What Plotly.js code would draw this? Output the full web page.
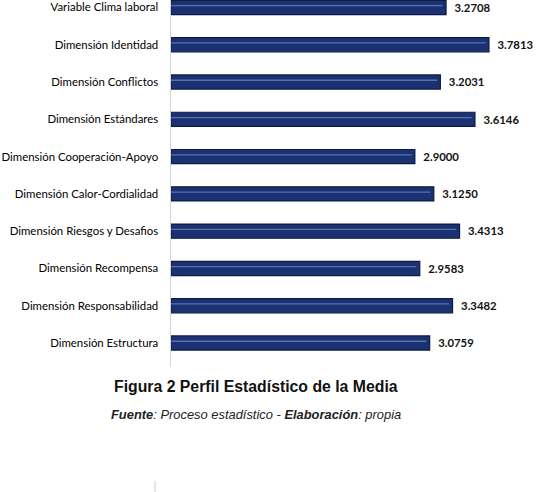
<!DOCTYPE html>
<html>
<head>
<meta charset="utf-8">
<script src="https://cdn.plot.ly/plotly-3.0.1.min.js"></script>
<style>html,body{margin:0;padding:0;background:#fff;}#chart{width:545px;height:492px;}</style>
</head>
<body>
<div id="chart"></div>
<script>
// bottom-to-top order
const categories = [
  "Dimensión Estructura",
  "Dimensión Responsabilidad",
  "Dimensión Recompensa",
  "Dimensión Riesgos y Desafios",
  "Dimensión Calor-Cordialidad",
  "Dimensión Cooperación-Apoyo",
  "Dimensión Estándares",
  "Dimensión Conflictos",
  "Dimensión Identidad",
  "Variable Clima laboral"
];
const means = [3.0759, 3.3482, 2.9583, 3.4313, 3.1250, 2.9000, 3.6146, 3.2031, 3.7813, 3.2708];
const chartTitle = "Figura 2 Perfil Estadístico de la Media";
const chartSource = "<b><i>Fuente</i></b><i>: Proceso estadístico - </i><b><i>Elaboración</i></b><i>: propia</i>";

const W = 545, H = 492;
const mL = 171, mR = 4, mT = 0, mB = 125;
const plotH = H - mT - mB, plotW = W - mL - mR;

const traces = [
  {
    type: 'bar', orientation: 'h', x: means, y: categories,
    width: 0.38,
    marker: {color: '#1b3272', line: {color: '#0c1a44', width: 1.2}},
    text: means.map(v => '  ' + v.toFixed(4)),
    textposition: 'outside', cliponaxis: false,
    textfont: {family: 'Lato, sans-serif', size: 12, color: '#111', weight: 'bold'},
    hoverinfo: 'x+y'
  },
  {
    type: 'bar', orientation: 'h', x: means.map(v => v - 0.04), y: categories,
    width: 0.035, offset: 0.03,
    marker: {color: 'rgba(110,135,195,0.75)', line: {width: 0}},
    hoverinfo: 'skip', showlegend: false
  }
];

const layout = {
  width: W, height: H,
  margin: {l: mL, r: mR, t: mT, b: mB},
  paper_bgcolor: '#fff', plot_bgcolor: '#fff',
  barmode: 'overlay', showlegend: false,
  xaxis: {range: [0, 4.4], visible: false, fixedrange: true},
  yaxis: {
    type: 'category', range: [-0.643, 9.2],
    showline: true, linecolor: '#d6d6d6', linewidth: 1.5,
    showgrid: false, zeroline: false, ticks: '', ticklen: 0,
    ticklabelstandoff: 9,
    tickfont: {family: 'Lato, sans-serif', size: 11.4, color: '#000'}
  },
  annotations: [
    {text: '<b>' + chartTitle + '</b>', xref: 'paper', yref: 'paper',
     x: (256 - mL) / plotW, y: -(387 - plotH) / plotH, xanchor: 'center', yanchor: 'middle',
     showarrow: false, font: {family: 'Liberation Sans, Arial, sans-serif', size: 15.8, color: '#111'}},
    {text: chartSource, xref: 'paper', yref: 'paper',
     x: (256 - mL) / plotW, y: -(414 - plotH) / plotH, xanchor: 'center', yanchor: 'middle',
     showarrow: false, font: {family: 'Liberation Sans, Arial, sans-serif', size: 12.9, color: '#222'}}
  ],
  shapes: [
    {type: 'line', xref: 'paper', yref: 'paper',
     x0: (155 - mL) / plotW, x1: (155 - mL) / plotW,
     y0: -(481 - plotH) / plotH, y1: -(492 - plotH) / plotH,
     line: {color: '#dcdcdc', width: 1.5}}
  ]
};

Plotly.newPlot('chart', traces, layout, {displayModeBar: false, staticPlot: true});
</script>
</body>
</html>
